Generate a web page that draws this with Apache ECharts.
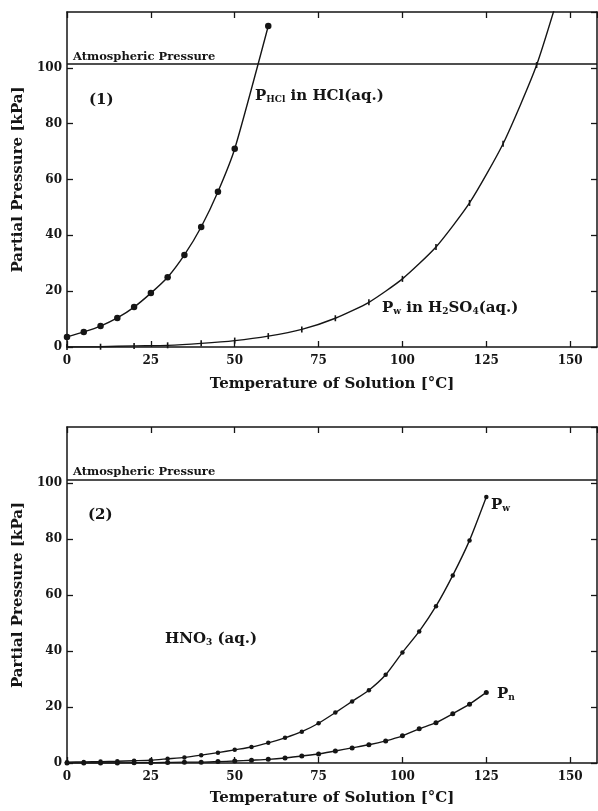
<!DOCTYPE html>
<html>
<head>
<meta charset="utf-8">
<script src="https://cdn.jsdelivr.net/npm/echarts@6/dist/echarts.min.js"></script>
<style>
html,body{margin:0;padding:0;background:#fff;}
#chart{width:598px;height:811px;}
</style>
</head>
<body>
<div id="chart"></div>
<script>
// Panel (1): HCl(aq.) and H2SO4(aq.)
const tHCl = [0, 5, 10, 15, 20, 25, 30, 35, 40, 45, 50, 60];
const pHCl = [3.6, 5.4, 7.5, 10.4, 14.3, 19.3, 25, 33, 43, 55.6, 71, 115];
const tH2SO4 = [0, 10, 20, 30, 40, 50, 60, 70, 80, 90, 100, 110, 120, 130, 140, 150];
const pWH2SO4 = [0, 0.1, 0.4, 0.6, 1.3, 2.3, 3.9, 6.3, 10.3, 16, 24.4, 35.8, 51.6, 72.8, 101, 140];
// Panel (2): HNO3(aq.)
const tHNO3 = [0, 5, 10, 15, 20, 25, 30, 35, 40, 45, 50, 55, 60, 65, 70, 75, 80, 85, 90, 95, 100, 105, 110, 115, 120, 125];
const pWHNO3 = [0.3, 0.4, 0.5, 0.6, 0.8, 1.0, 1.5, 2.0, 2.8, 3.7, 4.7, 5.7, 7.2, 9.0, 11.2, 14.2, 18, 22, 26, 31.5, 39.5, 47, 56, 67, 79.5, 95];
const pNHNO3 = [0, 0, 0, 0, 0.1, 0.1, 0.2, 0.3, 0.3, 0.5, 0.7, 1.0, 1.3, 1.8, 2.5, 3.2, 4.3, 5.4, 6.5, 7.9, 9.7, 12.2, 14.4, 17.6, 21, 25.2];
const atmPressure = 101.3;
const xTicks = [0, 25, 50, 75, 100, 125, 150];
const yTicks = [0, 20, 40, 60, 80, 100];

const FONT = 'DejaVu Serif';
const INK = '#151515';
const pair = (xs, ys) => xs.map((x, i) => [x, ys[i]]);

const chart = echarts.init(document.getElementById('chart'), null, {renderer: 'canvas'});

function bottomX(gi) {
  return {
    type: 'value', gridIndex: gi, position: 'bottom', min: 0, max: 158, interval: 25,
    name: 'Temperature of Solution [°C]', nameLocation: 'middle', nameGap: gi === 0 ? 30 : 28,
    nameTextStyle: {fontFamily: FONT, fontWeight: 'bold', fontSize: 15, color: INK},
    axisLine: {show: true, onZero: false, lineStyle: {color: INK, width: 1.5}},
    axisTick: {show: true, inside: true, length: 6, lineStyle: {color: INK, width: 1.3}},
    axisLabel: {fontFamily: FONT, fontWeight: 'bold', fontSize: 12, color: INK, margin: 8, showMaxLabel: false,
      formatter: v => xTicks.includes(v) ? String(v) : ''},
    splitLine: {show: false}
  };
}
function topX(gi) {
  return {
    type: 'value', gridIndex: gi, position: 'top', min: 0, max: 158, interval: 25,
    axisLine: {show: true, onZero: false, lineStyle: {color: INK, width: 1.5}},
    axisTick: {show: true, inside: true, length: 6, lineStyle: {color: INK, width: 1.3}},
    axisLabel: {show: false}, splitLine: {show: false}
  };
}
function leftY(gi) {
  return {
    type: 'value', gridIndex: gi, position: 'left', min: 0, max: 120, interval: 20,
    name: 'Partial Pressure [kPa]', nameLocation: 'middle', nameGap: 37,
    nameTextStyle: {fontFamily: FONT, fontWeight: 'bold', fontSize: 15, color: INK},
    axisLine: {show: true, onZero: false, lineStyle: {color: INK, width: 1.5}},
    axisTick: {show: true, inside: true, length: 6, lineStyle: {color: INK, width: 1.3}},
    axisLabel: {fontFamily: FONT, fontWeight: 'bold', fontSize: 12, color: INK, margin: 5, showMaxLabel: false,
      formatter: v => yTicks.includes(v) ? String(v) : ''},
    splitLine: {show: false}
  };
}
function rightY(gi) {
  return {
    type: 'value', gridIndex: gi, position: 'right', min: 0, max: 120, interval: 20,
    axisLine: {show: true, onZero: false, lineStyle: {color: INK, width: 1.5}},
    axisTick: {show: true, inside: true, length: 6, lineStyle: {color: INK, width: 1.3}},
    axisLabel: {show: false}, splitLine: {show: false}
  };
}
function atmLine() {
  return {
    silent: true, symbol: ['none', 'none'],
    lineStyle: {color: INK, width: 1.5, type: 'solid'},
    label: {show: true, position: 'insideStartTop', formatter: 'Atmospheric Pressure',
      fontFamily: FONT, fontWeight: 'bold', fontSize: 11.5, color: INK, distance: [6, 1]},
    data: [{yAxis: atmPressure}]
  };
}
const lineStyle = {color: INK, width: 1.4};
const rich = {
  n: {fontFamily: FONT, fontWeight: 'bold', fontSize: 15, fill: INK, lineHeight: 20},
  s: {fontFamily: FONT, fontWeight: 'bold', fontSize: 9, fill: INK, verticalAlign: 'bottom', lineHeight: 20, padding: [0, 0, 2, 0]}
};

const option = {
  backgroundColor: '#ffffff',
  animation: false,
  grid: [
    {left: 67, top: 12, width: 530, height: 335},
    {left: 67, top: 427, width: 530, height: 336}
  ],
  xAxis: [bottomX(0), bottomX(1), topX(0), topX(1)],
  yAxis: [leftY(0), leftY(1), rightY(0), rightY(1)],
  series: [
    {type: 'line', xAxisIndex: 0, yAxisIndex: 0, data: pair(tHCl, pHCl), clip: true,
      smooth: 0.2,
      symbol: 'circle', symbolSize: 6.5, showAllSymbol: true,
      itemStyle: {color: INK}, lineStyle: lineStyle, markLine: atmLine()},
    {type: 'line', xAxisIndex: 0, yAxisIndex: 0, data: pair(tH2SO4, pWH2SO4), clip: true,
      smooth: 0.2,
      symbol: 'rect', symbolSize: [1.6, 6], showAllSymbol: true,
      itemStyle: {color: INK}, lineStyle: lineStyle},
    {type: 'line', xAxisIndex: 1, yAxisIndex: 1, data: pair(tHNO3, pWHNO3), clip: true,
      smooth: 0.2,
      symbol: 'circle', symbolSize: 4.5, showAllSymbol: true,
      itemStyle: {color: INK}, lineStyle: lineStyle, markLine: atmLine()},
    {type: 'line', xAxisIndex: 1, yAxisIndex: 1, data: pair(tHNO3, pNHNO3), clip: true,
      smooth: 0.2,
      symbol: 'circle', symbolSize: 5, showAllSymbol: true,
      itemStyle: {color: INK}, lineStyle: lineStyle}
  ],
  graphic: [
    {type: 'text', left: 89, top: 93, style: {text: '(1)', fontFamily: FONT, fontWeight: 'bold', fontSize: 15, fill: INK}},
    {type: 'text', left: 88, top: 508, style: {text: '(2)', fontFamily: FONT, fontWeight: 'bold', fontSize: 15, fill: INK}},
    {type: 'text', left: 255, top: 89, style: {text: '{n|P}{s|HCl}{n| in HCl(aq.)}', rich: rich}},
    {type: 'text', left: 382, top: 301, style: {text: '{n|P}{s|w}{n| in H}{s|2}{n|SO}{s|4}{n|(aq.)}', rich: rich}},
    {type: 'text', left: 165, top: 632, style: {text: '{n|HNO}{s|3}{n| (aq.)}', rich: rich}},
    {type: 'text', left: 491, top: 498, style: {text: '{n|P}{s|w}', rich: rich}},
    {type: 'text', left: 497, top: 687, style: {text: '{n|P}{s|n}', rich: rich}}
  ]
};
chart.setOption(option);
</script>
</body>
</html>
